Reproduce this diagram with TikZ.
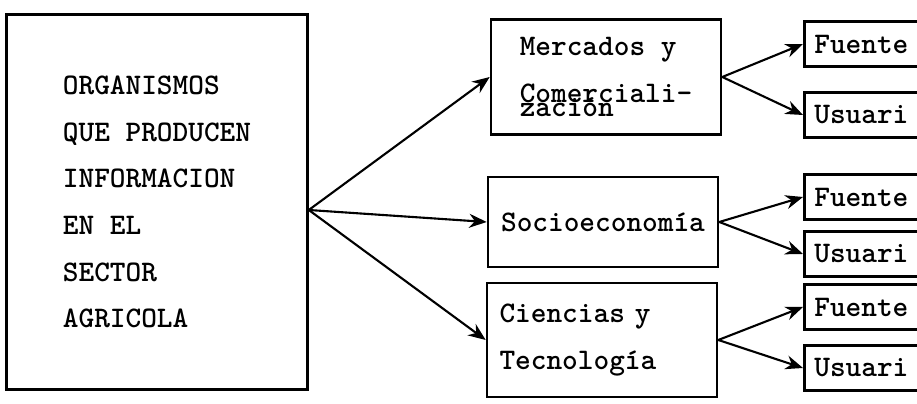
\documentclass[tikz,border=0pt]{standalone}
\usetikzlibrary{arrows.meta}
\begin{document}
\begin{tikzpicture}[x=0.02cm,y=-0.02cm,
  >={Stealth[length=3.5mm,width=2.8mm]},
  every node/.style={font=\ttfamily\bfseries\fontsize{17}{26.6}\selectfont},
  bigbox/.style={draw,line width=1.5pt,minimum width=6.02cm,minimum height=7.5cm,align=left},
  topic/.style={draw,line width=1.5pt,minimum width=4.6cm,align=left},
  target/.style={draw,line width=1.5pt,anchor=west,minimum width=3cm,text width=2.6cm,
    inner xsep=0.2cm,minimum height=0.9cm,align=left},
  link/.style={->,line width=1.2pt}]
\useasboundingbox (0,0) rectangle (917,404);
\clip (0,0) rectangle (917,404);

% Boxes
\node[bigbox] (org) at (157,202)
    {ORGANISMOS\\QUE PRODUCEN\\INFORMACION\\EN EL\\SECTOR\\AGRICOLA};
\node[topic,minimum height=2.3cm] (merc) at (606,77)
    {Mercados y\\Comerciali-\\[-19pt]zación};
\node[topic,minimum height=1.8cm] (socio) at (603,222) {Socioeconomía};
\node[topic,minimum height=2.28cm,text width=4.1cm] (cien) at (602,340)
    {Ciencias y\\Tecnología};

\node[target] (fu1) at (803,44)  {Fuente};
\node[target] (us1) at (803,115) {Usuari};
\node[target] (fu2) at (803,197) {Fuente};
\node[target] (us2) at (803,254) {Usuari};
\node[target] (fu3) at (803,307) {Fuente};
\node[target] (us3) at (803,368) {Usuari};

% Draw arrows
\draw[link] ([yshift=-0.16cm]org.east) -- (merc.west);
\draw[link] ([yshift=-0.16cm]org.east) -- (socio.west);
\draw[link] ([yshift=-0.16cm]org.east) -- (cien.west);

\draw[link] (merc.east) -- (fu1.west);
\draw[link] (merc.east) -- (us1.west);
\draw[link] (socio.east) -- (fu2.west);
\draw[link] (socio.east) -- (us2.west);
\draw[link] (cien.east) -- (fu3.west);
\draw[link] (cien.east) -- (us3.west);
\end{tikzpicture}
\end{document}
